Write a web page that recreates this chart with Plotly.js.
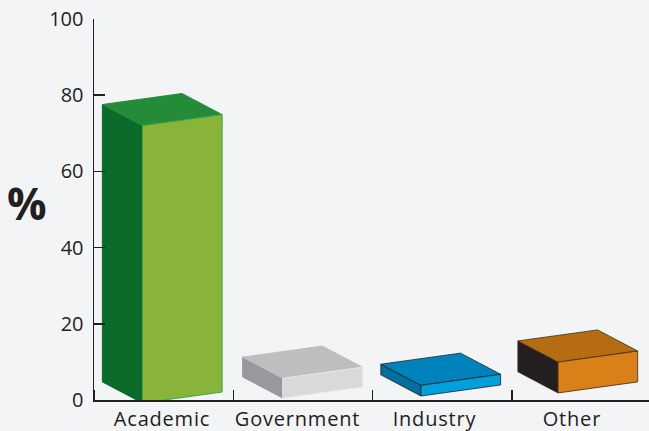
<!DOCTYPE html>
<html>
<head>
<meta charset="utf-8">
<script src="https://cdn.plot.ly/plotly-3.0.1.min.js"></script>
<style>html,body{margin:0;padding:0;background:#f2f4f6;}
.xtick text{letter-spacing:0.8px;}</style>
</head>
<body>
<div id="chart" style="width:649px;height:431px"></div>
<script>
// data
var categories = ["Academic", "Government", "Industry", "Other"];
var values = [72.8, 5.2, 2.8, 8.1];
var yTicks = [0, 20, 40, 60, 80, 100];
// drawing style and placement
var floorLift = [-0.8, 0.5, 1.05, 1.85];
var barLeft = [0.348, 1.355, 2.347, 3.331];
var labelAt = [0.488, 1.461, 2.444, 3.431];
var dividers = [0, 1, 2, 3];
var frontColors = ["#8ab439", "#d9d9dc", "#00a0dc", "#d98018"];
var topColors = ["#248c39", "#bdbec0", "#0083bd", "#b56c12"];
var sideColors = ["#0a6b2b", "#98999c", "#006f9e", "#231f20"];
var edgeColors = ["#39a84a", "#e6e7e8", "#231f20", "#3a2a18"];
var edgeWidths = [1, 1, 0.8, 0.8];
var barW = 0.572, depthX = 0.288, riseY = 2.9, depthY = 5.55;
var axisColor = "#231f20", font = "Open Sans, Noto Sans, sans-serif";

function face(xs, ys, fill, line, w) {
  return {type: "scatter", mode: "lines", x: xs, y: ys, fill: "toself", fillcolor: fill,
    line: {color: line, width: w}, cliponaxis: false, hoverinfo: "skip", showlegend: false};
}
var traces = [];
values.forEach(function (v, i) {
  var xl = barLeft[i], xr = xl + barW, b = floorLift[i], t = b + v;
  var sideEdge = i < 2 ? sideColors[i] : edgeColors[i];
  var topEdge = i < 2 ? topColors[i] : edgeColors[i];
  // side (left) face
  traces.push(face([xl - depthX, xl, xl, xl - depthX, xl - depthX],
    [b + depthY, b, t, t + depthY, b + depthY], sideColors[i], sideEdge, edgeWidths[i]));
  // top face
  traces.push(face([xl - depthX, xl, xr, xr - depthX, xl - depthX],
    [t + depthY, t, t + riseY, t + riseY + depthY, t + depthY], topColors[i], topEdge, edgeWidths[i]));
  // front face
  traces.push(face([xl, xr, xr, xl, xl],
    [b, b + riseY, t + riseY, t, b], frontColors[i], edgeColors[i], edgeWidths[i]));
});

var layout = {
  width: 649, height: 431, autosize: false,
  margin: {l: 94, r: 0, t: 18.5, b: 30.5, pad: 0},
  paper_bgcolor: "#f2f4f6", plot_bgcolor: "#f2f4f6",
  showlegend: false,
  xaxis: {
    range: [0, 555 / 139.3], showgrid: false, zeroline: false, showline: true,
    linecolor: axisColor, linewidth: 1.5, tickmode: "array", tickvals: labelAt, ticktext: categories,
    ticks: "", ticklabelstandoff: 0, tickfont: {family: font, size: 20, color: axisColor},
    minor: {tickmode: "array", tickvals: dividers, ticks: "inside", ticklen: 10, tickwidth: 1.5, tickcolor: axisColor, showgrid: false}
  },
  yaxis: {
    range: [0, 100], showgrid: false, zeroline: false, showline: true,
    linecolor: axisColor, linewidth: 1.5, tickmode: "array", tickvals: yTicks,
    ticks: "inside", ticklen: 11, tickwidth: 1.5, tickcolor: axisColor, ticklabelstandoff: 5,
    tickfont: {family: font, size: 20, color: axisColor}
  },
  annotations: [{
    text: "<b>%</b>", xref: "paper", yref: "y", x: -0.121, y: 51.8, xanchor: "center", yanchor: "middle",
    showarrow: false, font: {family: font, size: 44, color: axisColor}
  }]
};
Plotly.newPlot("chart", traces, layout, {displayModeBar: false, staticPlot: true});
</script>
</body>
</html>
